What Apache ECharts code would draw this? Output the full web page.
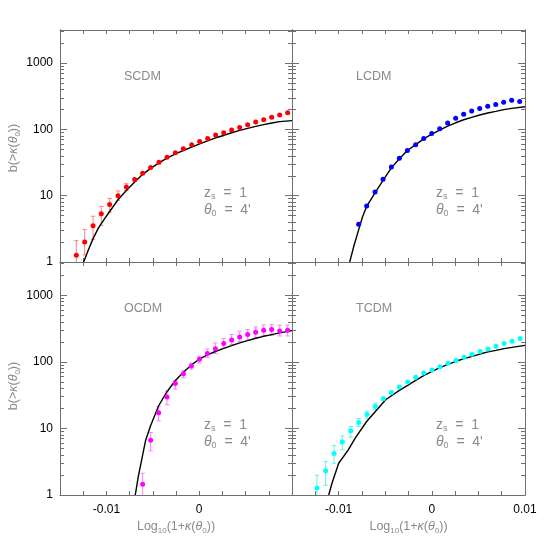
<!DOCTYPE html>
<html>
<head>
<meta charset="utf-8">
<script src="https://cdn.jsdelivr.net/npm/echarts@6/dist/echarts.min.js"></script>
<style>
html, body { margin: 0; padding: 0; background: #fff; }
#chart { width: 554px; height: 554px; }
</style>
</head>
<body>
<div id="chart"></div>
<script>
// ---- data: x = Log10(1+kappa(theta0)), b = b(>kappa) ----
// SCDM
const scdmX = [-0.01324, -0.01234, -0.01144, -0.01055, -0.00965, -0.00875, -0.00785, -0.00695, -0.00609,
  -0.00523, -0.00433, -0.00347, -0.00257, -0.00171, -0.00081, 0.00005, 0.00091, 0.00177, 0.00264,
  0.0035, 0.00436, 0.00522, 0.00609, 0.00695, 0.00781, 0.00867, 0.00953];
const scdmB = [1.26, 2.01, 3.51, 5.33, 7.39, 10.0, 13.5, 17.5, 21.8, 26.6, 32.0, 38.1, 44.4, 51.0, 58.6,
  65.8, 73.1, 82.1, 89.0, 97.7, 107, 118, 129, 140, 152, 165, 179];
const scdmHi = [2.1, 3.1, 4.9, 6.9, 9.1, 11.8, 15.2, 18.3];
const scdmLo = [0.6, 1.28, 2.2, 3.6, 5.7, 8.5, 12.0, 16.6];
const scdmCurveX = [-0.01245, -0.01195, -0.01141, -0.01087, -0.01015, -0.00965, -0.00875, -0.00785, -0.00695,
  -0.00609, -0.00523, -0.00433, -0.00347, -0.00257, -0.00171, -0.00081, 0.00005, 0.00091, 0.00177,
  0.00264, 0.0035, 0.00436, 0.00522, 0.00609, 0.00695, 0.00781, 0.00867, 0.01];
const scdmCurveB = [1, 1.52, 2.29, 3.24, 4.59, 5.78, 8.7, 12.0, 16.1, 21.0, 25.9, 31.3, 36.8, 42.8, 48.1,
  54.0, 60.6, 67.3, 74.8, 81.1, 89.0, 96.6, 103.5, 111, 118, 125, 131, 136];

// LCDM
const lcdmX = [-0.00785, -0.00699, -0.00609, -0.00523, -0.00434, -0.00348, -0.00262, -0.00173, -0.00087,
  -0.00001, 0.00085, 0.0017, 0.00256, 0.00342, 0.00428, 0.00514, 0.006, 0.00686, 0.00771, 0.00857, 0.00943];
const lcdmB = [3.72, 6.98, 11.4, 17.7, 27.2, 36.8, 48.1, 58.6, 73.1, 86.9, 102, 125, 147, 169, 190, 206,
  223, 237, 257, 275, 263];
const lcdmCurveX = [-0.00881, -0.00838, -0.00785, -0.00742, -0.00699, -0.00609, -0.00523, -0.00434, -0.00348,
  -0.00262, -0.00173, -0.00087, -0.00001, 0.00085, 0.0017, 0.00256, 0.00342, 0.00428, 0.00514, 0.006,
  0.00686, 0.00771, 0.00857, 0.01];
const lcdmCurveB = [1, 1.71, 3.05, 4.86, 6.89, 11, 17.1, 26.3, 36.1, 48.1, 59, 72, 85, 97.6, 112, 126, 140,
  152, 165, 177, 187, 199, 208, 220];

// OCDM
const ocdmX = [-0.00609, -0.00523, -0.00437, -0.00347, -0.00257, -0.0017, -0.00084, 0.00002, 0.00088,
  0.00174, 0.00264, 0.0035, 0.00436, 0.00522, 0.00609, 0.00695, 0.00781, 0.00867, 0.00953];
const ocdmB = [1.45, 6.66, 17.2, 29.6, 47.4, 66.4, 86.7, 109, 133, 158, 188, 213, 237, 257, 279, 298, 305, 292, 298];
const ocdmHi = [2.12, 8.7, 21.4, 36.4, 52, 74.5, 96, 121, 156, 192, 224, 257, 288, 305, 335, 359, 363, 355, 358];
const ocdmLo = [0.6, 4.6, 13, 22.7, 39, 57.8, 78, 96, 117, 133, 160, 182, 204, 216, 234, 248, 251, 245, 245];
const ocdmCurveX = [-0.00689, -0.00656, -0.00609, -0.00577, -0.00523, -0.00437, -0.00347, -0.00257, -0.0017,
  -0.00084, 0.00002, 0.00088, 0.00174, 0.00264, 0.0035, 0.00436, 0.00522, 0.00609, 0.00695, 0.00781,
  0.00867, 0.01];
const ocdmCurveB = [1, 1.9, 4.0, 6.66, 11.1, 21.9, 35.6, 52.5, 70, 89.8, 110, 127, 143, 159, 175, 193, 208,
  226, 242, 257, 272, 295];

// TCDM
const tcdmX = [-0.01232, -0.01139, -0.01049, -0.0096, -0.0087, -0.00785, -0.00695, -0.00606, -0.0052,
  -0.00434, -0.00348, -0.00259, -0.00173, -0.00087, 0.00002, 0.00088, 0.00174, 0.0026, 0.00346, 0.00432,
  0.00517, 0.00603, 0.00689, 0.00775, 0.00861, 0.00947];
const tcdmB = [1.27, 2.32, 4.19, 6.28, 9.2, 12.3, 16.2, 21.4, 27.9, 34.7, 41.9, 49.8, 58.5, 68, 75.5, 84.7,
  95, 105, 117, 130, 143, 156, 171, 188, 204, 224];
const tcdmHi = [1.98, 3.2, 5.5, 7.7, 10.7, 14.1, 18.2, 24, 29.6, 36.5];
const tcdmLo = [0.6, 1.4, 3.0, 4.8, 7.4, 10.7, 14.1, 19, 26.3, 33];
const tcdmCurveX = [-0.01106, -0.01071, -0.00999, -0.00896, -0.0082, -0.00699, -0.00495, -0.00348, -0.00259,
  -0.00173, -0.00087, 0.00002, 0.00088, 0.00174, 0.0026, 0.00346, 0.00432, 0.00517, 0.00603, 0.00689,
  0.00775, 0.00861, 0.01];
const tcdmCurveB = [1, 1.5, 3.0, 4.76, 7.2, 12.7, 27, 37.2, 44.3, 52.7, 62, 72, 81.8, 91.7, 102, 112, 121,
  131, 141, 149, 158, 165, 177];

// axis ticks
const yMajor = [1, 10, 100, 1000];
const yMinor = [2, 3, 4, 5, 6, 7, 8, 9, 20, 30, 40, 50, 60, 70, 80, 90, 200, 300, 400, 500, 600, 700, 800, 900, 2000, 3000];
const xLabelsLeft = [-0.01, 0];
const xLabelsRight = [-0.01, 0, 0.01];

const panels = [
  { name: 'SCDM', x: scdmX, b: scdmB, hi: scdmHi, lo: scdmLo, cx: scdmCurveX, cb: scdmCurveB,
    color: '#ff0000', errColor: '#ff8080', left: 60, top: 30, width: 232, height: 232, row: 0, col: 0 },
  { name: 'LCDM', x: lcdmX, b: lcdmB, hi: null, lo: null, cx: lcdmCurveX, cb: lcdmCurveB,
    color: '#0000ff', errColor: '#8080ff', left: 292, top: 30, width: 233, height: 232, row: 0, col: 1 },
  { name: 'OCDM', x: ocdmX, b: ocdmB, hi: ocdmHi, lo: ocdmLo, cx: ocdmCurveX, cb: ocdmCurveB,
    color: '#ff00ff', errColor: '#ff80ff', left: 60, top: 262, width: 232, height: 233, row: 1, col: 0 },
  { name: 'TCDM', x: tcdmX, b: tcdmB, hi: tcdmHi, lo: tcdmLo, cx: tcdmCurveX, cb: tcdmCurveB,
    color: '#00ffff', errColor: '#66eeee', left: 292, top: 262, width: 233, height: 233, row: 1, col: 1 }
];

const FONT = '"Liberation Sans", Arial, sans-serif';
const GREY = '#8a8a8a';
const FRAME = '#6f6f6f';
const YMAX = Math.pow(10, 3.5);

function zip(a, b) { return a.map((v, i) => [v, b[i]]); }

function renderErr(params, api) {
  const x = api.value(0);
  const top = api.coord([x, api.value(2)]);
  const bot = api.coord([x, api.value(1)]);
  const w = 2.2;
  const st = { stroke: api.visual('color'), lineWidth: 1 };
  return {
    type: 'group',
    children: [
      { type: 'line', shape: { x1: top[0], y1: top[1], x2: bot[0], y2: bot[1] }, style: st },
      { type: 'line', shape: { x1: top[0] - w, y1: top[1], x2: top[0] + w, y2: top[1] }, style: st },
      { type: 'line', shape: { x1: bot[0] - w, y1: bot[1], x2: bot[0] + w, y2: bot[1] }, style: st }
    ]
  };
}

const grids = [], xAxes = [], yAxes = [], series = [], graphics = [];

panels.forEach((p, i) => {
  grids.push({ left: p.left, top: p.top, width: p.width, height: p.height, containLabel: false, outerBoundsMode: 'none' });

  const labelVals = p.col === 0 ? xLabelsLeft : xLabelsRight;
  ['bottom', 'top'].forEach(pos => {
    xAxes.push({
      type: 'value', gridIndex: i, position: pos, min: -0.015, max: 0.01, interval: 0.0025,
      axisLine: { show: true, onZero: false, lineStyle: { color: FRAME, width: 1 } },
      axisTick: { show: true, inside: true, length: 4, lineStyle: { color: FRAME, width: 1 } },
      splitLine: { show: false },
      axisLabel: {
        show: pos === 'bottom' && p.row === 1, margin: 9, color: '#000', fontSize: 12, fontFamily: FONT,
        formatter: v => {
          const hit = labelVals.find(t => Math.abs(t - v) < 1e-9);
          return hit === undefined ? '' : String(hit);
        }
      }
    });
  });

  ['left', 'right'].forEach(pos => {
    yAxes.push({
      type: 'log', logBase: 10, gridIndex: i, position: pos, min: 1, max: YMAX,
      axisLine: { show: true, onZero: false, lineStyle: { color: FRAME, width: 1 } },
      axisTick: { show: true, inside: true, length: 7, customValues: yMajor, lineStyle: { color: FRAME, width: 1 } },
      splitLine: { show: false },
      axisLabel: {
        show: pos === 'left' && p.col === 0, customValues: yMajor, margin: 7, color: '#000',
        fontSize: 12, fontFamily: FONT, formatter: v => String(v)
      }
    });
    yAxes.push({
      type: 'log', logBase: 10, gridIndex: i, position: pos, min: 1, max: YMAX,
      axisLine: { show: true, onZero: false, lineStyle: { color: FRAME, width: 1 } },
      axisTick: { show: true, inside: true, length: 4, customValues: yMinor, lineStyle: { color: FRAME, width: 1 } },
      splitLine: { show: false },
      axisLabel: { show: false }
    });
  });

  const xi = i * 2, yi = i * 4;
  if (p.hi) {
    series.push({
      type: 'custom', xAxisIndex: xi, yAxisIndex: yi, clip: true, z: 1,
      itemStyle: { color: p.errColor },
      encode: { x: 0, y: [1, 2] },
      data: p.hi.map((h, k) => [p.x[k], p.lo[k], h]),
      renderItem: renderErr
    });
  }
  series.push({
    type: 'line', xAxisIndex: xi, yAxisIndex: yi, data: zip(p.cx, p.cb), showSymbol: false,
    lineStyle: { color: '#000', width: 1.4 }, z: 2, animation: false
  });
  series.push({
    type: 'scatter', xAxisIndex: xi, yAxisIndex: yi, data: zip(p.x, p.b), symbolSize: 5,
    itemStyle: { color: p.color, opacity: 1 }, z: 3
  });

  // panel texts
  graphics.push({
    type: 'text', x: p.left + 64, y: p.top + 47,
    style: { text: p.name, fill: GREY, font: '12.5px ' + FONT, textVerticalAlign: 'middle' }
  });
  const rich = {
    m: { fontSize: 14, lineHeight: 16, fontFamily: FONT, fill: GREY, color: GREY },
    t: { fontSize: 14, lineHeight: 16, fontFamily: FONT, fontStyle: 'italic', fill: GREY, color: GREY },
    s: { fontSize: 9, lineHeight: 9, fontFamily: FONT, verticalAlign: 'bottom', fill: GREY, color: GREY }
  };
  graphics.push({
    type: 'text', x: p.left + 144, y: p.top + 163,
    style: { text: '{m|z}{s|s}{m|  =  1}', rich: rich, textVerticalAlign: 'middle' }
  });
  graphics.push({
    type: 'text', x: p.left + 144, y: p.top + 180,
    style: { text: '{t|θ}{s|0}{m|  =  4\'}', rich: rich, textVerticalAlign: 'middle' }
  });
});

const nameRich = {
  m: { fontSize: 12.5, lineHeight: 15, fontFamily: FONT, fill: GREY, color: GREY },
  t: { fontSize: 12.5, lineHeight: 15, fontFamily: FONT, fontStyle: 'italic', fill: GREY, color: GREY },
  s: { fontSize: 8, lineHeight: 8, fontFamily: FONT, verticalAlign: 'bottom', fill: GREY, color: GREY }
};
[148, 386].forEach(cy => {
  graphics.push({
    type: 'text', x: 14, y: cy, rotation: Math.PI / 2,
    style: { text: '{m|b(>}{t|κ}{m|(}{t|θ}{s|0}{m|))}', rich: nameRich, textAlign: 'center', textVerticalAlign: 'middle' }
  });
});
[176, 408.5].forEach(cx => {
  graphics.push({
    type: 'text', x: cx, y: 527,
    style: { text: '{m|Log}{s|10}{m|(1+}{t|κ}{m|(}{t|θ}{s|0}{m|))}', rich: nameRich, textAlign: 'center', textVerticalAlign: 'middle' }
  });
});

const chart = echarts.init(document.getElementById('chart'), null, { renderer: 'canvas' });
chart.setOption({
  animation: false,
  backgroundColor: '#fff',
  grid: grids,
  xAxis: xAxes,
  yAxis: yAxes,
  series: series,
  graphic: graphics
});
</script>
</body>
</html>
